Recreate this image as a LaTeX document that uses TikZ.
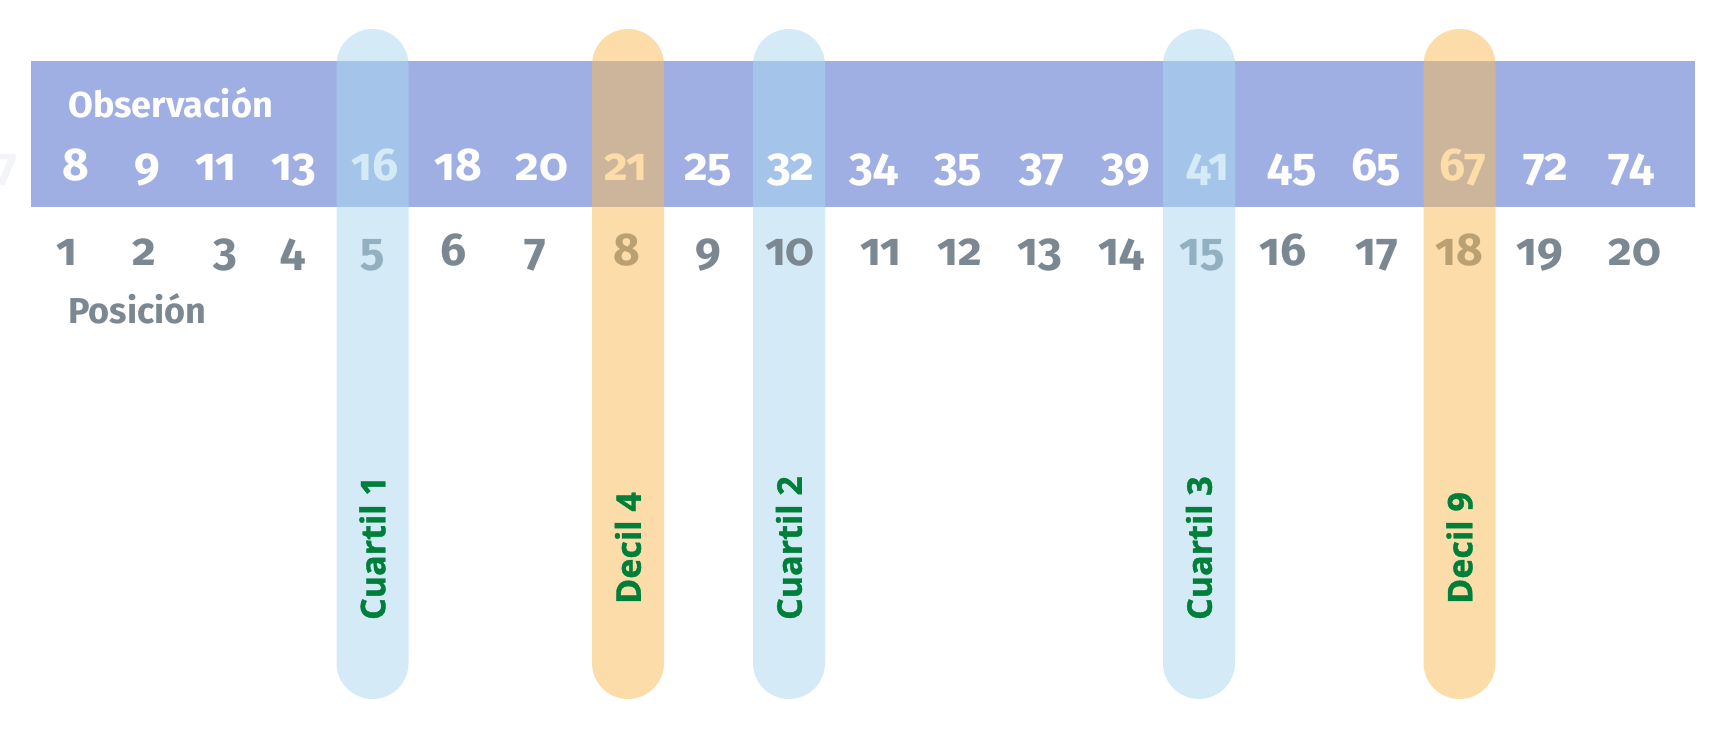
\documentclass[tikz,border=0pt]{standalone}
\usepackage{fontspec}
\setmainfont{Fira Sans}[Numbers=OldStyle]
\newfontfamily\labfont{Open Sans}[BoldFeatures={FakeBold=1.2}]
\definecolor{bandc}{HTML}{A0AFE3}
\definecolor{bluep}{HTML}{ABD9F1}
\definecolor{orangep}{HTML}{FBBB55}
\definecolor{grayt}{HTML}{7B8891}
\definecolor{greent}{HTML}{007F3A}
\definecolor{faintc}{HTML}{F2F4F8}
\begin{document}
\begin{tikzpicture}[x=1pt,y=-1pt,
  obs/.style={anchor=base, text=white, inner sep=0pt, font=\fontsize{46}{50}\selectfont\bfseries},
  posn/.style={anchor=base, text=grayt, inner sep=0pt, font=\fontsize{46}{50}\selectfont\bfseries},
  title/.style={anchor=base west, inner sep=0pt, font=\fontsize{36}{40}\selectfont\bfseries},
  pill/.style={minimum width=72pt, minimum height=670pt, rounded corners=36pt, inner sep=0pt, fill opacity=0.5},
  bluepill/.style={pill, fill=bluep},
  orangepill/.style={pill, fill=orangep},
  lab/.style={rotate=90, text=greent, inner sep=0pt, font=\labfont\fontsize{34}{38}\selectfont\bfseries},
  bandbox/.style={fill=bandc, minimum width=1664pt, minimum height=146pt, inner sep=0pt}
]
\useasboundingbox (0,0) rectangle (1729,730);
\clip (0,0) rectangle (1729,730);
\fill[white] (0,0) rectangle (1729,730);

\node[bandbox] (band) at (863,134) {};
% Cuartil 2 lies beneath the numbers
\node[bluepill] (q2) at (789,364) {};
\node[obs, anchor=base east, text=faintc] (cut) at (18,181) {7};

\node[title, text=white] (tobs) at (68,118) {Observación};
\node[title, text=grayt] (tpos) at (68,323) {Posición};

\foreach \x/\v [count=\i] in {76/8,147/9,216/11,294/13,375/16,458/18,542/20,626/21,708/25,791/32,874/34,958/35,1042/37,1126/39,1208/41,1292/45,1376/65,1463/67,1546/72,1631/74}
  \node[obs] (o\i) at (\x,181) {\v};

\foreach \x [count=\i] in {67,144,225,293,373,454,535,627,708,790,881,960,1040,1121,1202,1283,1377,1459,1540,1635}
  \node[posn] (p\i) at (\x,265) {\i};

\node[bluepill] (q1) at (372.5,364) {};
\node[orangepill] (d4) at (628,364) {};
\node[bluepill] (q3) at (1199,364) {};
\node[orangepill] (d9) at (1459.5,364) {};

\node[lab] (lq1) at (q1.center |- 0,548) {Cuartil 1};
\node[lab] (ld4) at (d4.center |- 0,548) {Decil 4};
\node[lab] (lq2) at (q2.center |- 0,548) {Cuartil 2};
\node[lab] (lq3) at (q3.center |- 0,548) {Cuartil 3};
\node[lab] (ld9) at (d9.center |- 0,548) {Decil 9};
\end{tikzpicture}
\end{document}
